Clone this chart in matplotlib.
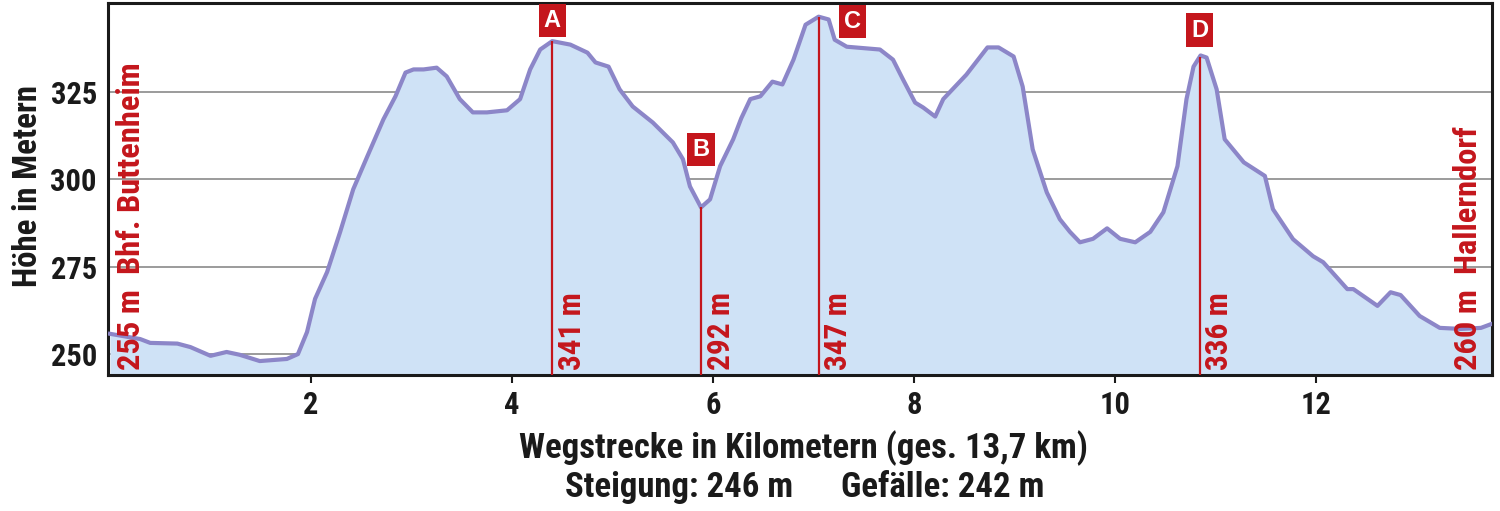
import numpy as np
import matplotlib
matplotlib.use("Agg")
import matplotlib.pyplot as plt

km = [0.0, 0.3, 0.4, 0.67, 0.8, 1.0, 1.16, 1.29, 1.49, 1.76, 1.87, 1.96, 2.04, 2.16,
      2.29, 2.42, 2.56, 2.72, 2.84, 2.94, 3.02, 3.12, 3.25, 3.35, 3.48, 3.61, 3.75,
      3.95, 4.08, 4.18, 4.28, 4.40, 4.58, 4.75, 4.83, 4.96, 5.07, 5.2, 5.4, 5.6, 5.7,
      5.77, 5.88, 5.97, 6.07, 6.2, 6.28, 6.37, 6.47, 6.59, 6.69, 6.80, 6.92, 7.05,
      7.15, 7.21, 7.33, 7.66, 7.79, 7.89, 8.01, 8.09, 8.21, 8.29, 8.52, 8.73, 8.84,
      8.99, 9.08, 9.18, 9.32, 9.45, 9.55, 9.65, 9.78, 9.92, 10.05, 10.2, 10.35, 10.48,
      10.62, 10.71, 10.78, 10.85, 10.91, 11.01, 11.09, 11.28, 11.49, 11.57, 11.77,
      11.97, 12.07, 12.31, 12.37, 12.61, 12.74, 12.84, 13.03, 13.23, 13.44, 13.64, 13.78]
hoehe = [255.8, 254.3, 253.2, 253.0, 252.0, 249.5, 250.6, 249.8, 248.0, 248.6, 250.0,
         256.3, 265.8, 273.5, 285.0, 297.2, 306.6, 317.2, 323.8, 330.6, 331.5, 331.5,
         332.0, 329.5, 323.0, 319.2, 319.2, 319.8, 323.0, 331.5, 337.2, 339.6, 338.6,
         336.3, 333.5, 332.3, 325.8, 320.9, 316.3, 310.6, 305.8, 298.0, 292.0, 294.3,
         303.8, 311.5, 317.5, 323.0, 323.8, 328.0, 327.2, 334.3, 344.3, 346.6, 345.8,
         340.0, 338.0, 337.2, 334.3, 328.6, 322.0, 320.6, 318.0, 323.0, 330.0, 337.8,
         337.8, 335.2, 326.6, 308.6, 296.3, 288.6, 285.0, 282.0, 283.0, 286.0, 283.0,
         282.0, 285.0, 290.6, 303.8, 323.0, 332.3, 335.5, 334.9, 325.8, 311.5, 304.9,
         301.0, 291.5, 282.9, 278.0, 276.3, 268.6, 268.6, 263.8, 267.7, 266.9, 260.9,
         257.5, 257.2, 257.5, 259.0]

# Wegpunkte
punkt_namen = ["A", "B", "C", "D"]
punkt_km = [4.40, 5.88, 7.05, 10.84]
punkt_labels = ["341 m", "292 m", "347 m", "336 m"]

start_label = "255 m  Bhf. Buttenheim"
ende_label = "260 m  Hallerndorf"

xticks = [2, 4, 6, 8, 10, 12]
yticks = [250, 275, 300, 325]

rot = "#c4161c"
fnt = ["Roboto Condensed", "DejaVu Sans"]
kw = dict(fontweight="bold", family=fnt, fontstretch="condensed")

fig = plt.figure(figsize=(15, 5.11), dpi=100)
ax = fig.add_axes([0.072, 0.2661, 0.9227, 0.7279])

ax.fill_between(km, hoehe, 240, color="#cfe2f6", zorder=1, lw=0)
ax.plot(km, hoehe, color="#8c86c8", lw=3, solid_joinstyle="round", zorder=3)

ax.set_xlim(-0.02, 13.75)
ax.set_ylim(244, 350.5)
ax.set_axisbelow(True)
ax.yaxis.grid(True, color="#8a8a8a", lw=1.2)

ax.set_xticks(xticks)
ax.set_yticks(yticks)
ax.tick_params(axis="y", length=0, pad=8)
ax.tick_params(axis="x", length=6, width=1.5, pad=5, color="#1a1a1a")
for lab in ax.get_xticklabels() + ax.get_yticklabels():
    lab.set_fontfamily(fnt)
    lab.set_fontweight("bold")
    lab.set_fontstretch("condensed")
    lab.set_fontsize(22)
    lab.set_color("#1a1a1a")

for s in ax.spines.values():
    s.set_linewidth(2.2)
    s.set_color("#1a1a1a")

# Wegpunkt-Linien und Beschriftungen
box_off = [(0, 14.7), (0, 41.8), (24.5, -3.6), (0, 19.4)]
for name, x, lab, off in zip(punkt_namen, punkt_km, punkt_labels, box_off):
    top = np.interp(x, km, hoehe)
    ax.vlines(x, 244, top, color=rot, lw=1.6, zorder=4)
    ax.annotate(lab, xy=(x, 245.3), xytext=(3.5, 0), textcoords="offset points",
                rotation=90, ha="left", va="bottom", color=rot,
                fontsize=22.5, zorder=5, **kw)
    ax.annotate(name, xy=(x, top), xytext=off, textcoords="offset points",
                ha="center", va="center", color="white", fontsize=17,
                fontweight="bold", family="Liberation Sans", zorder=6,
                bbox=dict(boxstyle="square,pad=0.22", fc=rot, ec="none"))

ax.text(0.21, 245.3, start_label, rotation=90, ha="center", va="bottom",
        color=rot, fontsize=23.4, zorder=5, **kw)
ax.text(13.51, 245.3, ende_label, rotation=90, ha="center", va="bottom",
        color=rot, fontsize=23.4, zorder=5, **kw)

fig.text(28 / 1500, 1 - 186 / 511, "Höhe in Metern", rotation=90, ha="center",
         va="center", fontsize=23.7, color="#1a1a1a", **kw)
fig.text(803 / 1500, 1 - 458 / 511, "Wegstrecke in Kilometern (ges. 13,7 km)",
         ha="center", va="baseline", fontsize=25, color="#1a1a1a", **kw)
fig.text(793 / 1500, 1 - 497 / 511, "Steigung: 246 m", ha="right", va="baseline",
         fontsize=25, color="#1a1a1a", **kw)
fig.text(841 / 1500, 1 - 497 / 511, "Gefälle: 242 m", ha="left", va="baseline",
         fontsize=25, color="#1a1a1a", **kw)

fig.savefig("out.png", dpi=100)
